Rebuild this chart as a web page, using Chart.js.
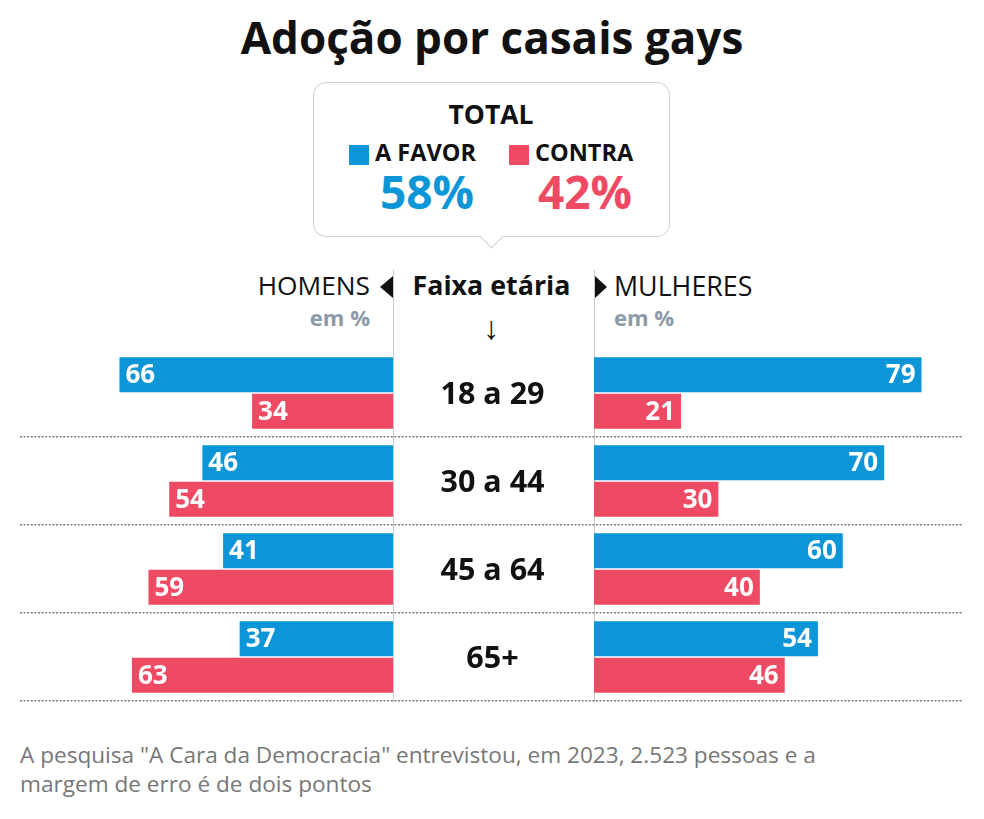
<!DOCTYPE html>
<html>
<head>
<meta charset="utf-8">
<script src="https://cdn.jsdelivr.net/npm/chart.js@4/dist/chart.umd.min.js"></script>
<style>
  html, body { margin:0; padding:0; background:#fff; }
  body { width:984px; height:819px; position:relative; overflow:hidden; font-family:'Open Sans', sans-serif; }
  .abs { position:absolute; white-space:nowrap; }
  #title { left:0; width:984px; top:7px; text-align:center; font-weight:700; font-size:44px; color:#111; }
  #box { left:313px; top:82px; width:355px; height:153px; border:1.5px solid #cfcfcf; border-radius:13px; background:#fff; }
  #notch { left:483px; top:228px; width:16px; height:16px; background:#fff; border-right:1.5px solid #cfcfcf; border-bottom:1.5px solid #cfcfcf; transform:rotate(45deg); }
  .vline { position:absolute; top:270px; height:432px; width:1px; background:#c8c8c8; }
  #canvasWrap { position:absolute; left:0; top:340px; width:984px; height:372px; }
  #footer { left:20px; top:740px; font-size:22.6px; line-height:29px; color:#777; white-space:normal; width:940px; }
</style>
</head>
<body>
<div id="title" class="abs">Adoção por casais gays</div>
<div id="box" class="abs"></div>
<div id="notch" class="abs"></div>
<div class="abs" style="left:0;width:982px;top:96px;text-align:center;font-weight:700;font-size:26.5px;color:#111;">TOTAL</div>
<div class="abs" style="left:349px;top:145px;width:20px;height:20px;background:#0C96D8;"></div>
<div class="abs" style="left:375px;top:136px;font-weight:700;font-size:23.5px;color:#111;">A FAVOR</div>
<div class="abs" style="left:509px;top:145px;width:20px;height:20px;background:#EE4A64;"></div>
<div class="abs" style="left:535px;top:136px;font-weight:700;font-size:23.5px;color:#111;">CONTRA</div>
<div class="abs" style="left:327px;width:200px;top:160px;text-align:center;font-weight:700;font-size:46px;color:#0C96D8;">58%</div>
<div class="abs" style="left:485px;width:200px;top:160px;text-align:center;font-weight:700;font-size:46px;color:#EE4A64;">42%</div>

<div class="vline" style="left:393px;"></div>
<div class="vline" style="left:594px;"></div>

<div class="abs" style="right:614px;top:267px;font-size:26.3px;color:#111;">HOMENS</div>
<div class="abs" style="left:380px;top:276px;width:0;height:0;border-top:11px solid transparent;border-bottom:11px solid transparent;border-right:13px solid #111;"></div>
<div class="abs" style="left:391px;width:201px;top:266px;text-align:center;font-weight:700;font-size:26.8px;color:#111;">Faixa etária</div>
<div class="abs" style="left:595px;top:276px;width:0;height:0;border-top:11px solid transparent;border-bottom:11px solid transparent;border-left:12px solid #111;"></div>
<div class="abs" style="left:614px;top:267px;font-size:26.8px;color:#111;">MULHERES</div>
<div class="abs" style="right:614px;top:302px;font-size:22px;font-weight:700;color:#8d9aa6;">em %</div>
<div class="abs" style="left:614px;top:302px;font-size:22px;font-weight:700;color:#8d9aa6;">em %</div>
<div class="abs" style="left:391px;width:201px;top:305px;text-align:center;font-size:32px;color:#111;">↓</div>

<div id="canvasWrap"><canvas id="c"></canvas></div>

<div id="footer" class="abs">A pesquisa "A Cara da Democracia" entrevistou, em 2023, 2.523 pessoas e a<br>margem de erro é de dois pontos</div>

<script>
const faixas = ['18 a 29', '30 a 44', '45 a 64', '65+'];
const homensFavor = [66, 46, 41, 37];
const homensContra = [34, 54, 59, 63];
const mulheresFavor = [79, 70, 60, 54];
const mulheresContra = [21, 30, 40, 46];

const BLUE = '#0C96D8';
const RED = '#EE4A64';

Chart.defaults.font.family = "'Open Sans', sans-serif";

const barLabels = {
  id: 'barLabels',
  afterDatasetsDraw(chart) {
    const ctx = chart.ctx;
    ctx.save();
    ctx.font = "700 26px 'Open Sans', sans-serif";
    ctx.fillStyle = '#fff';
    ctx.textBaseline = 'middle';
    chart.data.datasets.forEach((ds, di) => {
      const meta = chart.getDatasetMeta(di);
      const left = ds.xAxisID === 'xL';
      meta.data.forEach((el, i) => {
        const v = ds.data[i];
        if (left) { ctx.textAlign = 'left'; ctx.fillText(String(v), el.x + 6, el.y + 1); }
        else { ctx.textAlign = 'right'; ctx.fillText(String(v), el.x - 6, el.y + 1); }
      });
    });
    const xc = chart.scales.xC;
    const y = chart.scales.y;
    ctx.font = "700 30.5px 'Open Sans', sans-serif";
    ctx.fillStyle = '#111';
    ctx.textAlign = 'center';
    faixas.forEach((f, i) => {
      ctx.fillText(f, (xc.left + xc.right) / 2 - 1, y.getPixelForValue(i) + 2);
    });
    ctx.restore();
  }
};

const hiddenX = (extra) => Object.assign({
  type: 'linear', position: 'bottom', stack: 'row', display: false,
  min: 0, grid: { display: false }, ticks: { display: false }
}, extra);

new Chart(document.getElementById('c'), {
  type: 'bar',
  data: {
    labels: faixas,
    datasets: [
      { label: 'Homens - A favor', data: homensFavor, backgroundColor: BLUE, xAxisID: 'xL', stack: 'favor' },
      { label: 'Homens - Contra', data: homensContra, backgroundColor: RED, xAxisID: 'xL', stack: 'contra' },
      { label: 'Mulheres - A favor', data: mulheresFavor, backgroundColor: BLUE, xAxisID: 'xR', stack: 'favor' },
      { label: 'Mulheres - Contra', data: mulheresContra, backgroundColor: RED, xAxisID: 'xR', stack: 'contra' }
    ]
  },
  options: {
    indexAxis: 'y',
    responsive: true,
    maintainAspectRatio: false,
    animation: false,
    categoryPercentage: 0.83,
    barPercentage: 0.96,
    layout: { padding: { left: 20, right: 21, top: 9, bottom: 11 } },
    plugins: { legend: { display: false }, tooltip: { enabled: false }, title: { display: false } },
    scales: {
      xL: hiddenX({ reverse: true, max: 90, stackWeight: 373, weight: 1 }),
      xC: hiddenX({ max: 1, stackWeight: 201, weight: 2 }),
      xR: hiddenX({ max: 89, stackWeight: 369, weight: 3 }),
      y: {
        type: 'category',
        offset: true,
        ticks: { display: false },
        border: { display: false, dash: [2, 1.6] },
        grid: {
          offset: true,
          drawTicks: false,
          lineWidth: 1.5,
          color: (c) => c.index === 0 ? 'rgba(0,0,0,0)' : '#7d7d7d'
        }
      }
    }
  },
  plugins: [barLabels]
});
</script>
</body>
</html>
